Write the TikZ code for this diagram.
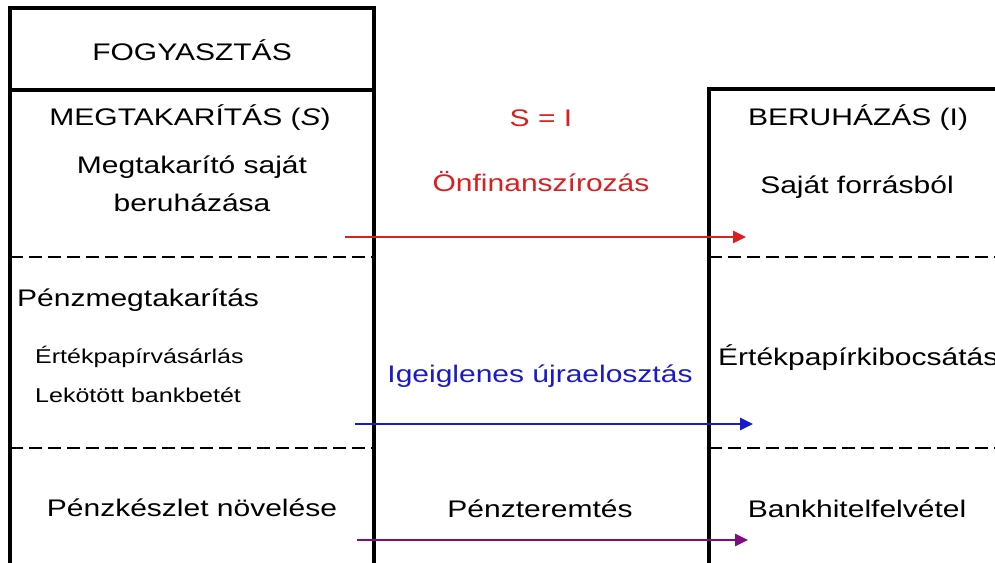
\documentclass[tikz,border=0pt]{standalone}
\usepackage{fontspec}
\setmainfont[FakeStretch=1.25]{Liberation Sans}
\usetikzlibrary{arrows.meta}
\definecolor{arrred}{RGB}{220,30,30}
\definecolor{arrblue}{RGB}{25,25,205}
\definecolor{arrpurple}{RGB}{130,10,130}
\tikzset{
  boxline/.style={line width=3.8pt, line cap=rect},
  sepline/.style={line width=2.6pt, dash pattern=on 13pt off 6pt},
  big/.style={font=\fontsize{24}{28}\selectfont, inner sep=0pt, anchor=base},
  small/.style={font=\fontsize{20}{24}\selectfont, inner sep=0pt, anchor=base west},
  flow/.style={line width=2.8pt, -{Triangle[length=13pt,width=12pt]}},
}
\begin{document}
\begin{tikzpicture}[x=1pt,y=-1pt]
\useasboundingbox (0,0) rectangle (995,562);
\clip (0,0) rectangle (995,562);
% left box
\draw[boxline] (10,580) -- (10,8) -- (374,8) -- (374,580);
\draw[boxline] (10,90) -- (374,90);
\draw[sepline] (10,257) -- (374,257);
\draw[sepline] (10,448) -- (374,448);
% right box
\draw[boxline] (709,580) -- (709,89) -- (1010,89);
\draw[sepline] (709,257) -- (1000,257);
\draw[sepline] (709,448) -- (1000,448);
% left texts
\node[big] (fogy) at (192,60) {FOGYASZTÁS};
\node[big] (megt) at (190,125) {MEGTAKARÍTÁS (\textit{S})};
\node[big] (sajat1) at (192,173) {Megtakarító saját};
\node[big] (sajat2) at (192,211) {beruházása};
\node[big, anchor=base west] (penzm) at (17,306) {Pénzmegtakarítás};
\node[small] (ertv) at (35,363) {Értékpapírvásárlás};
\node[small] (lek) at (35,402) {Lekötött bankbetét};
\node[big] (penzk) at (192,516) {Pénzkészlet növelése};
% middle texts
\node[big, text=arrred] (si) at (541,126) {S = I};
\node[big, text=arrred] (onf) at (541,191) {Önfinanszírozás};
\node[big, text=arrblue] (ideig) at (540,382) {Igeiglenes újraelosztás};
\node[big] (penzt) at (540,517) {Pénzteremtés};
% right texts
\node[big] (beru) at (858,125) {BERUHÁZÁS (I)};
\node[big] (forras) at (857,193) {Saját forrásból};
\node[big, anchor=base west] (ertk) at (718,365) {Értékpapírkibocsátás};
\node[big] (bank) at (857,517) {Bankhitelfelvétel};
% arrows
\coordinate (rs) at (345,237);
\coordinate (re) at (746,237);
\coordinate (bs) at (355,424);
\coordinate (be) at (753,424);
\coordinate (ps) at (357,540);
\coordinate (pe) at (748,540);
\draw[flow, arrred] (rs) -- (re);
\draw[flow, arrblue] (bs) -- (be);
\draw[flow, arrpurple] (ps) -- (pe);
\end{tikzpicture}
\end{document}
